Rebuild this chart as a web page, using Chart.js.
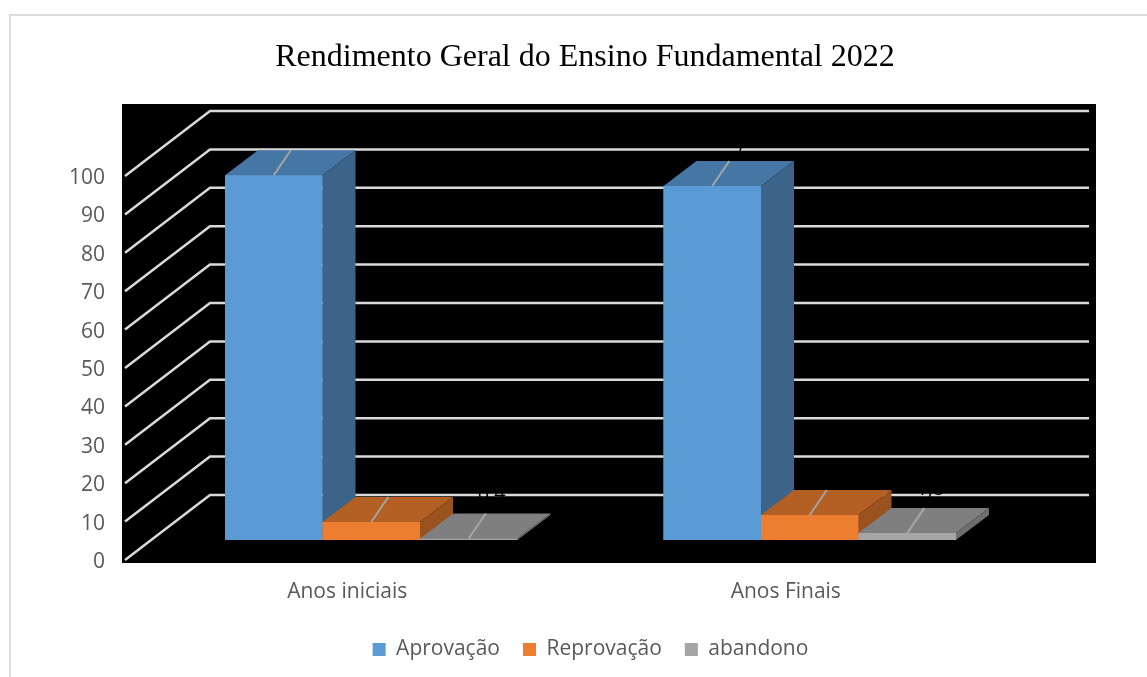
<!DOCTYPE html>
<html>
<head>
<meta charset="utf-8">
<style>
  html, body { margin: 0; padding: 0; background: #fff; overflow: hidden; }
  canvas { display: block; }
</style>
<script src="https://cdn.jsdelivr.net/npm/chart.js@4"></script>
</head>
<body>
<canvas id="grafico" width="1147" height="677"></canvas>
<script>
const categorias = ["Anos iniciais", "Anos Finais"];
const aprovacao = [95, 92.2];
const reprovacao = [4.7, 6.5];
const abandono = [0.4, 1.8];

// cores de cada barra: frente, topo, lateral
const faces = [
    { frente: "#5b9bd5", topo: "#4676a3", lado: "#3b6488" },
    { frente: "#ed7d31", topo: "#b45f23", lado: "#9a521e" },
    { frente: "#a5a5a5", topo: "#7f7f7f", lado: "#6e6e6e" }
];

// profundidade das barras e das paredes em relacao ao plano das barras
const prof = { x: 33, y: -25 };
const frenteEixo = { x: -27, y: 20 };
const fundoEixo = { x: 58, y: -45 };

function poligono(ctx, pts, cor) {
    ctx.fillStyle = cor;
    ctx.beginPath();
    pts.forEach((p, i) => i ? ctx.lineTo(p[0], p[1]) : ctx.moveTo(p[0], p[1]));
    ctx.closePath();
    ctx.fill();
}

const efeito3d = {
    id: "efeito3d",
    beforeDatasetsDraw(chart) {
        const ctx = chart.ctx;
        const area = chart.chartArea;
        const y = chart.scales.y;

        // moldura
        ctx.strokeStyle = "#dcdcdc";
        ctx.lineWidth = 2;
        ctx.beginPath();
        ctx.moveTo(10, 677);
        ctx.lineTo(10, 15);
        ctx.lineTo(1147, 15);
        ctx.stroke();

        // fundo preto
        ctx.fillStyle = "#000";
        ctx.fillRect(area.left - 30, 104, 974, 459);

        // grade: diagonal na parede lateral e linha na parede do fundo
        ctx.strokeStyle = "#d9d9d9";
        ctx.lineWidth = 2.5;
        y.ticks.forEach(t => {
            const py = y.getPixelForValue(t.value);
            ctx.beginPath();
            ctx.moveTo(area.left + frenteEixo.x, py + frenteEixo.y);
            ctx.lineTo(area.left + fundoEixo.x, py + fundoEixo.y);
            ctx.lineTo(area.right + fundoEixo.x + 2, py + fundoEixo.y);
            ctx.stroke();
        });
    },
    afterDatasetsDraw(chart) {
        const ctx = chart.ctx;

        // redesenha na ordem da legenda: cada barra cobre a lateral da anterior
        chart.data.datasets.forEach((ds, i) => {
            const cor = faces[i];
            chart.getDatasetMeta(i).data.forEach(bar => {
                const esq = bar.x - bar.width / 2;
                const dir = bar.x + bar.width / 2;
                poligono(ctx, [[esq, bar.y], [dir, bar.y], [dir + prof.x, bar.y + prof.y], [esq + prof.x, bar.y + prof.y]], cor.topo);
                poligono(ctx, [[dir, bar.y], [dir + prof.x, bar.y + prof.y], [dir + prof.x, bar.base + prof.y], [dir, bar.base]], cor.lado);
                bar.draw(ctx);

                // linha guia do rotulo
                ctx.strokeStyle = "#a6a6a6";
                ctx.lineWidth = 2;
                ctx.beginPath();
                ctx.moveTo(bar.x, bar.y);
                ctx.lineTo(bar.x + 17, bar.y - 25);
                ctx.stroke();
            });
        });

        // rotulos em preto, como no original quase somem no fundo
        ctx.fillStyle = "#000";
        ctx.font = "20px 'Open Sans'";
        ctx.textAlign = "center";
        ctx.textBaseline = "alphabetic";
        chart.data.datasets.forEach((ds, i) => {
            chart.getDatasetMeta(i).data.forEach((bar, j) => {
                ctx.fillText(String(ds.data[j]).replace(".", ","), bar.x + 23, bar.y - 38);
            });
        });
    }
};

new Chart(document.getElementById("grafico"), {
    type: "bar",
    data: {
        labels: categorias,
        datasets: [
            { label: "Aprovação", data: aprovacao, backgroundColor: faces[0].frente },
            { label: "Reprovação", data: reprovacao, backgroundColor: faces[1].frente },
            { label: "abandono", data: abandono, backgroundColor: faces[2].frente }
        ]
    },
    options: {
        responsive: false,
        animation: false,
        layout: { padding: { left: 60, right: 37, top: 0, bottom: 7 } },
        datasets: { bar: { barPercentage: 1, categoryPercentage: 0.667 } },
        scales: {
            x: {
                grid: { display: false },
                border: { display: false },
                afterFit: s => { s.height = 76; },
                ticks: { color: "#595959", font: { family: "Open Sans", size: 21 }, padding: 31, labelOffset: -24 }
            },
            y: {
                min: 0,
                max: 100,
                grid: { display: false },
                border: { display: false },
                afterFit: s => { s.width = 92; },
                ticks: { stepSize: 10, color: "#595959", font: { family: "Open Sans", size: 21 }, padding: 39, labelOffset: 22 }
            },
            // eixo vazio so para reservar a margem direita sem deslocar o titulo
            margem: {
                position: "right",
                grid: { display: false },
                border: { display: false },
                ticks: { display: false },
                afterFit: s => { s.width = 81; }
            }
        },
        plugins: {
            title: {
                display: true,
                text: "Rendimento Geral do Ensino Fundamental 2022",
                color: "#000",
                font: { family: "Liberation Serif", size: 32, weight: "normal" },
                padding: { top: 38, bottom: 79.6 }
            },
            legend: {
                position: "bottom",
                fullSize: false,
                labels: { color: "#595959", font: { family: "Open Sans", size: 21 }, boxWidth: 13, boxHeight: 13, padding: 23 }
            },
            tooltip: { enabled: false }
        }
    },
    plugins: [efeito3d]
});
</script>
</body>
</html>
